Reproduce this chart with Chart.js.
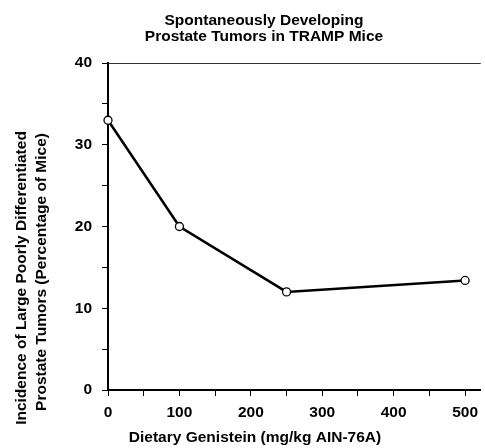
<!DOCTYPE html>
<html>
<head>
<meta charset="utf-8">
<script src="https://cdn.jsdelivr.net/npm/chart.js@4"></script>
<style>
    html, body { margin: 0; padding: 0; background: #fff; }
    #wrap { width: 485px; height: 448px; }
</style>
</head>
<body>
<div id="wrap"><canvas id="tumorChart" width="485" height="448"></canvas></div>
<script>
// datos
const doses = [0, 100, 250, 500];
const incidence = [33, 20, 12, 13.4];
const xTickLabels = [0, 100, 200, 300, 400, 500];
const yTickLabels = [0, 10, 20, 30, 40];
const titleLines = ['Spontaneously Developing', 'Prostate Tumors in TRAMP Mice'];
const yTitleLines = ['Incidence of Large Poorly Differentiated', 'Prostate Tumors (Percentage of Mice)'];
const xTitle = 'Dietary Genistein (mg/kg AIN-76A)';

const FAMILY = '"Liberation Sans", Arial, sans-serif';
const FONT = 'bold 15.5px ' + FAMILY;

// textos y linea superior dibujados a mano
const textPlugin = {
    id: 'textPlugin',
    afterDraw(chart) {
        const ctx = chart.ctx;
        const area = chart.chartArea;
        ctx.save();
        ctx.fillStyle = '#000';
        ctx.font = FONT;
        ctx.textAlign = 'center';
        ctx.textBaseline = 'alphabetic';
        ctx.fillText(titleLines[0], 264, 25);
        ctx.fillText(titleLines[1], 264, 41);
        ctx.fillText(xTitle, 255, 442);

        ctx.save();
        ctx.translate(26, 278);
        ctx.rotate(-Math.PI / 2);
        ctx.fillText(yTitleLines[0], 0, 0);
        ctx.restore();
        ctx.save();
        ctx.translate(46, 272);
        ctx.rotate(-Math.PI / 2);
        ctx.fillText(yTitleLines[1], 0, 0);
        ctx.restore();

        ctx.strokeStyle = '#333';
        ctx.lineWidth = 1.2;
        ctx.beginPath();
        ctx.moveTo(area.left, area.top + 0.5);
        ctx.lineTo(area.right, area.top + 0.5);
        ctx.stroke();
        ctx.restore();
    }
};

new Chart(document.getElementById('tumorChart'), {
    type: 'line',
    data: {
        datasets: [{
            data: doses.map((d, i) => ({ x: d, y: incidence[i] })),
            borderColor: '#000',
            borderWidth: 2.5,
            pointRadius: 4,
            pointBorderWidth: 1.3,
            pointBackgroundColor: '#fff',
            pointBorderColor: '#000',
            tension: 0,
            clip: false
        }]
    },
    options: {
        responsive: false,
        animation: false,
        layout: { autoPadding: false, padding: { top: 63, right: 0, left: 0, bottom: 0 } },
        plugins: {
            legend: { display: false },
            tooltip: { enabled: false }
        },
        scales: {
            x: {
                type: 'linear',
                min: 0,
                max: 522,
                afterFit(scale) { scale.height = 58; },
                afterBuildTicks(scale) {
                    const ticks = [];
                    for (let v = 0; v <= xTickLabels[xTickLabels.length - 1]; v += 50) ticks.push({ value: v });
                    scale.ticks = ticks;
                },
                ticks: {
                    color: '#000',
                    font: { family: FAMILY, size: 15.5, weight: 'bold' },
                    padding: 7,
                    maxRotation: 0,
                    autoSkip: false,
                    callback: v => xTickLabels.includes(v) ? String(v) : ''
                },
                grid: {
                    drawOnChartArea: false,
                    drawTicks: true,
                    tickLength: 6,
                    tickColor: '#000',
                    tickWidth: 1
                },
                border: { color: '#000', width: 2 }
            },
            y: {
                type: 'linear',
                min: 0,
                max: 40,
                afterFit(scale) { scale.width = 108; },
                afterBuildTicks(scale) {
                    const ticks = [];
                    for (let v = 0; v <= yTickLabels[yTickLabels.length - 1]; v += 5) ticks.push({ value: v });
                    scale.ticks = ticks;
                },
                ticks: {
                    color: '#000',
                    font: { family: FAMILY, size: 15.5, weight: 'bold' },
                    padding: 10,
                    autoSkip: false,
                    callback: v => yTickLabels.includes(v) ? String(v) : ''
                },
                grid: {
                    drawOnChartArea: false,
                    drawTicks: true,
                    tickLength: 6,
                    tickColor: '#000',
                    tickWidth: 1
                },
                border: { color: '#000', width: 2 }
            }
        }
    },
    plugins: [textPlugin]
});
</script>
</body>
</html>
